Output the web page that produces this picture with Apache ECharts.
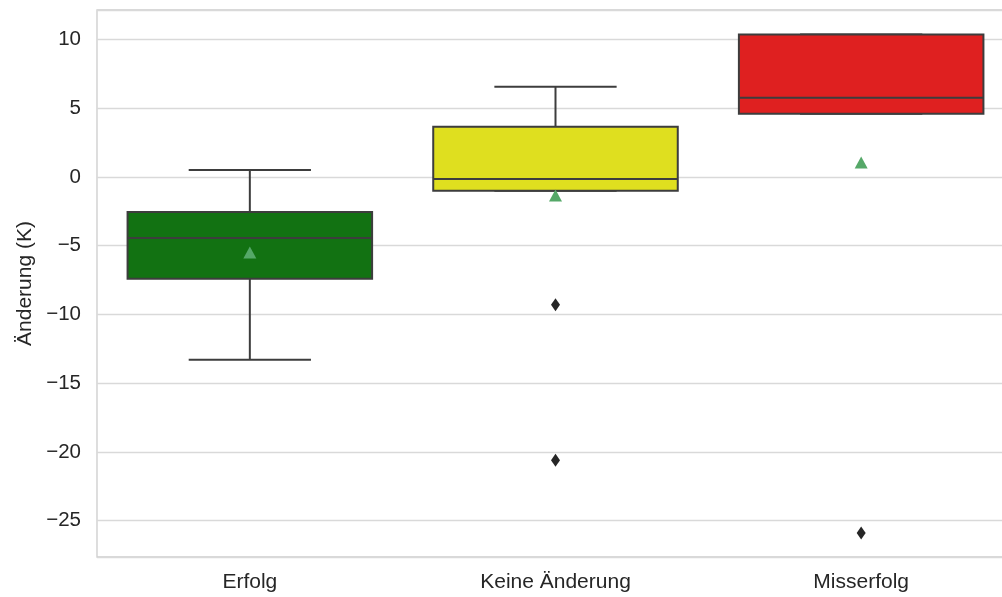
<!DOCTYPE html>
<html>
<head>
<meta charset="utf-8">
<script src="https://cdn.jsdelivr.net/npm/echarts@6/dist/echarts.min.js"></script>
<style>
html,body{margin:0;padding:0;background:#fff;}
#chart{width:1002px;height:597px;}
</style>
</head>
<body>
<div id="chart"></div>
<script>
const categories = ['Erfolg', 'Keine Änderung', 'Misserfolg'];
const whiskerLow = [-13.3, -1.0, 4.6];
const q1 = [-7.4, -1.0, 4.6];
const median = [-4.45, -0.15, 5.75];
const q3 = [-2.55, 3.65, 10.35];
const whiskerHigh = [0.5, 6.55, 10.35];
const means = [-5.5, -1.35, 1.05];
const outliers = [[1, -9.3], [1, -20.6], [2, -25.9]];
const yTicks = [-25, -20, -15, -10, -5, 0, 5, 10];

const boxColors = ['#127212', '#dfdf1f', '#df2020'];
const lineColor = '#3d3d3d';

const boxData = categories.map((c, i) => [i, whiskerLow[i], q1[i], median[i], q3[i], whiskerHigh[i]]);

const chart = echarts.init(document.getElementById('chart'), null, {renderer: 'canvas'});
chart.setOption({
  animation: false,
  backgroundColor: '#ffffff',
  grid: {left: 97, top: 10, right: -12, bottom: 40, outerBoundsMode: 'none', containLabel: false,
    show: true, borderColor: '#cccccc', borderWidth: 1.3, backgroundColor: 'transparent'},
  xAxis: {
    type: 'category',
    data: categories,
    boundaryGap: true,
    axisLine: {show: false},
    axisTick: {show: false},
    splitLine: {show: false},
    axisLabel: {fontFamily: 'Liberation Sans', fontSize: 21, color: '#262626', margin: 15}
  },
  yAxis: {
    type: 'value',
    min: -27.64,
    max: 12.14,
    splitNumber: 8,
    name: 'Änderung (K)',
    nameLocation: 'middle',
    nameGap: 59,
    nameTextStyle: {fontFamily: 'Liberation Sans', fontSize: 21, color: '#262626'},
    axisLine: {show: false},
    axisTick: {show: false},
    splitLine: {show: true, lineStyle: {color: '#d9d9d9', width: 1.3}},
    axisLabel: {
      fontFamily: 'Liberation Sans', fontSize: 20.5, color: '#262626', margin: 16,
      showMinLabel: false, showMaxLabel: false,
      formatter: function (v) {
        const r = Math.round(v);
        if (Math.abs(v - r) > 1e-6 || yTicks.indexOf(r) < 0) return '';
        return r < 0 ? '\u2212' + Math.abs(r) : String(r);
      }
    }
  },
  series: [
    {
      type: 'custom',
      data: boxData,
      z: 2,
      renderItem: function (params, api) {
        const i = api.value(0);
        const band = api.size([1, 0])[0];
        const half = band * 0.8 / 2;
        const capHalf = half / 2;
        const x = api.coord([i, api.value(3)])[0];
        const yLo = api.coord([i, api.value(1)])[1];
        const yQ1 = api.coord([i, api.value(2)])[1];
        const yMed = api.coord([i, api.value(3)])[1];
        const yQ3 = api.coord([i, api.value(4)])[1];
        const yHi = api.coord([i, api.value(5)])[1];
        const ls = {stroke: lineColor, lineWidth: 2};
        return {
          type: 'group',
          children: [
            {type: 'line', shape: {x1: x, y1: yQ1, x2: x, y2: yLo}, style: ls},
            {type: 'line', shape: {x1: x, y1: yQ3, x2: x, y2: yHi}, style: ls},
            {type: 'line', shape: {x1: x - capHalf, y1: yLo, x2: x + capHalf, y2: yLo}, style: ls},
            {type: 'line', shape: {x1: x - capHalf, y1: yHi, x2: x + capHalf, y2: yHi}, style: ls},
            {type: 'rect', shape: {x: x - half, y: yQ3, width: 2 * half, height: yQ1 - yQ3},
              style: {fill: boxColors[i], stroke: lineColor, lineWidth: 2}},
            {type: 'line', shape: {x1: x - half, y1: yMed, x2: x + half, y2: yMed}, style: ls}
          ]
        };
      }
    },
    {
      type: 'scatter',
      data: means.map((m, i) => [i, m]),
      symbol: 'triangle',
      symbolSize: [13, 12],
      itemStyle: {color: '#55a868', opacity: 1},
      z: 5
    },
    {
      type: 'scatter',
      data: outliers,
      symbol: 'diamond',
      symbolSize: [9, 13],
      itemStyle: {color: '#262626', opacity: 1},
      z: 5
    }
  ]
});
</script>
</body>
</html>
